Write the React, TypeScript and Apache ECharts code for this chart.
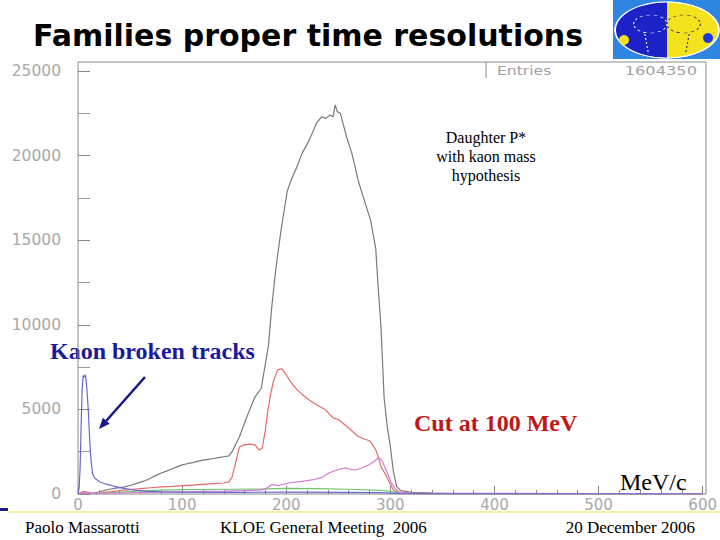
import React, { useEffect, useRef } from "react";
import * as echarts from "echarts";

// ---- data (MeV/c vs. entries) ----
const grayMeV = [0, 5, 10, 15, 20, 25, 30, 35, 40, 45, 50, 55, 60, 65, 70, 75, 80, 85, 90, 95, 100, 105, 110, 115, 120, 125, 130, 135, 140, 145, 148, 152, 155, 160, 165, 170, 176, 180, 183, 186, 190, 195, 201, 205, 210, 215, 222, 229, 234, 238, 242, 245, 247, 249, 252, 255, 258, 263, 269, 274, 281, 286, 288, 291, 294, 297, 300, 303, 306, 310, 315, 320, 330, 340, 360, 400, 450, 600];
const grayCounts = [0, 0, 20, 50, 120, 200, 280, 330, 380, 420, 500, 600, 700, 800, 950, 1100, 1240, 1350, 1480, 1600, 1720, 1790, 1850, 1930, 2000, 2050, 2100, 2150, 2200, 2250, 2500, 3000, 3370, 4200, 5000, 5730, 6250, 7700, 8800, 11000, 13300, 15600, 17900, 18600, 19300, 20100, 20900, 21900, 22300, 22200, 22400, 22300, 23000, 22600, 22500, 21800, 21100, 20150, 18560, 17550, 16190, 14500, 12500, 9900, 5700, 4000, 2800, 1300, 450, 200, 150, 100, 80, 60, 30, 10, 5, 0];

const redMeV = [0, 5, 10, 15, 20, 25, 30, 40, 50, 60, 70, 80, 90, 100, 110, 120, 130, 140, 145, 148, 152, 155, 160, 165, 170, 174, 177, 180, 182, 185, 188, 192, 196, 200, 205, 210, 215, 222, 230, 238, 245, 250, 253, 260, 269, 275, 280, 283, 286, 289, 291, 295, 298, 303, 308, 315, 330, 600];
const redCounts = [0, 150, 100, 30, 30, 80, 130, 200, 260, 320, 370, 420, 450, 490, 530, 570, 610, 650, 720, 1000, 2000, 2780, 2900, 2950, 2900, 2600, 2720, 3800, 4790, 5900, 6740, 7350, 7400, 7050, 6560, 6200, 5900, 5560, 5250, 4960, 4500, 4400, 4250, 3900, 3400, 3250, 3150, 2900, 2600, 2100, 1600, 1200, 830, 240, 60, 20, 10, 0];

const magentaMeV = [0, 5, 10, 20, 40, 60, 80, 100, 120, 140, 160, 175, 180, 186, 193, 202, 215, 225, 235, 241, 250, 257, 262, 266, 272, 279, 285, 288, 291, 293, 297, 301, 305, 308, 320, 400, 500, 600];
const magentaCounts = [0, 80, 50, 30, 60, 90, 110, 130, 150, 170, 200, 230, 300, 550, 500, 650, 750, 830, 1000, 1240, 1450, 1540, 1450, 1420, 1520, 1710, 1950, 2130, 2050, 1830, 1250, 650, 300, 120, 60, 40, 30, 30];

const greenMeV = [0, 20, 40, 60, 80, 100, 150, 180, 200, 230, 260, 290, 300, 310, 330, 600];
const greenCounts = [0, 20, 100, 180, 230, 260, 280, 300, 330, 320, 280, 220, 150, 50, 10, 0];

const blueMeV = [0, 1, 2, 3, 4, 5, 6, 7, 8, 9, 10, 11, 12, 13, 14, 16, 18, 21, 25, 30, 34, 40, 47, 55, 66, 80, 100, 150, 200, 250, 290, 300, 310, 330, 600];
const blueCounts = [0, 300, 1500, 4000, 6200, 7000, 6900, 7050, 6600, 5800, 4800, 3500, 2400, 1700, 1200, 950, 850, 710, 620, 540, 470, 380, 300, 220, 150, 120, 110, 100, 110, 100, 80, 50, 20, 10, 0];

const yTicks = [0, 5000, 10000, 15000, 20000, 25000];
const xTicks = [0, 100, 200, 300, 400, 500, 600];

const titleText = "Families proper time resolutions";
const entriesLabel = "Entries";
const entriesValue = "1604350";
const noteLines = ["Daughter P*", "with kaon mass", "hypothesis"];
const kaonText = "Kaon broken tracks";
const cutText = "Cut at 100 MeV";
const unitText = "MeV/c";
const footer = ["Paolo Massarotti", "KLOE General Meeting  2006", "20 December 2006"];

const pairs = (xs: number[], ys: number[]) => xs.map((x, i) => [x, ys[i]]);

export default function App() {
  const ref = useRef<HTMLDivElement>(null);
  useEffect(() => {
    if (!ref.current) return;
    const chart = echarts.init(ref.current, null, { renderer: "svg" });
    const serif = "'Liberation Serif', 'DejaVu Serif', serif";
    const sans = "'DejaVu Sans', sans-serif";
    const mkLine = (name: string, xs: number[], ys: number[], color: string, z: number) => ({
      name,
      type: "line",
      data: pairs(xs, ys),
      showSymbol: false,
      symbol: "none",
      lineStyle: { color, width: 1.2 },
      z,
    });
    const ax = 145, ay = 377, tx = 99, ty = 429;
    const dx = tx - ax, dy = ty - ay;
    const len = Math.sqrt(dx * dx + dy * dy);
    const ux = dx / len, uy = dy / len;
    const bx = tx - 11 * ux, by = ty - 11 * uy;
    const px = -uy, py = ux;
    chart.setOption({
      animation: false,
      backgroundColor: "#ffffff",
      grid: { left: 78, right: 14, top: 71, bottom: 46, containLabel: false },
      xAxis: {
        type: "value",
        min: 0,
        max: 600,
        interval: 100,
        axisLine: { show: false },
        axisTick: { show: true, inside: true, length: 8, lineStyle: { color: "#888" } },
        minorTick: { show: true, splitNumber: 5, length: 4, lineStyle: { color: "#888" } },
        splitLine: { show: false },
        axisLabel: {
          color: "#a8a8a8",
          fontFamily: sans,
          fontSize: 15,
          margin: 3,
          formatter: (v: number) => (xTicks.includes(v) ? String(v) : ""),
        },
      },
      yAxis: {
        type: "value",
        min: 0,
        max: 25000,
        interval: 5000,
        axisLine: { show: false },
        axisTick: { show: true, inside: true, length: 12, lineStyle: { color: "#888" } },
        minorTick: { show: true, splitNumber: 2, length: 12, lineStyle: { color: "#999" } },
        splitLine: { show: false },
        axisLabel: {
          color: "#a8a8a8",
          fontFamily: sans,
          fontSize: 15.5,
          margin: 17,
          formatter: (v: number) => (yTicks.includes(v) ? String(v) : ""),
        },
      },
      series: [
        mkLine("all", grayMeV, grayCounts, "#7a7a7a", 2),
        mkLine("red", redMeV, redCounts, "#e36b6b", 3),
        mkLine("magenta", magentaMeV, magentaCounts, "#d779d9", 4),
        mkLine("green", greenMeV, greenCounts, "#74c374", 3),
        mkLine("blue", blueMeV, blueCounts, "#6767cf", 5),
      ],
      graphic: [
        { type: "rect", shape: { x: 78, y: 62, width: 628, height: 432 }, style: { fill: "none", stroke: "#8a8a8a", lineWidth: 1 }, z: 1 },
        { type: "line", shape: { x1: 486, y1: 62, x2: 486, y2: 78 }, style: { stroke: "#8a8a8a", lineWidth: 1 } },
        { type: "text", x: 497, y: 70, style: { text: entriesLabel, fill: "#a0a0a0", font: `13px ${sans}`, verticalAlign: "middle" }, scaleX: 1.2 },
        { type: "text", x: 697, y: 70, scaleX: 1.25, style: { text: entriesValue, fill: "#a0a0a0", font: `13px ${sans}`, align: "right", verticalAlign: "middle" } },
        { type: "text", x: 308, y: 35, style: { text: titleText, fill: "#000", font: `bold 30px ${sans}`, align: "center", verticalAlign: "middle" } },
        // logo
        { type: "rect", shape: { x: 613, y: 0, width: 107, height: 59 }, style: { fill: "#2f86e0" } },
        {
          type: "group",
          x: 667,
          y: 30,
          scaleX: 1.85,
          scaleY: 1,
          children: [
            { type: "circle", shape: { cx: 0, cy: 0, r: 28 }, style: { fill: "#f4e21c", stroke: "#ffffff", lineWidth: 1 } },
            { type: "sector", shape: { cx: 0, cy: 0, r: 28, r0: 0, startAngle: Math.PI / 2, endAngle: (3 * Math.PI) / 2 }, style: { fill: "#1c22c8" } },
            { type: "circle", shape: { cx: 0, cy: 0, r: 28 }, style: { fill: "none", stroke: "#ffffff", lineWidth: 0.8 } },
            { type: "circle", shape: { cx: -9, cy: -6, r: 9 }, style: { fill: "none", stroke: "#ffffff", lineWidth: 0.6, lineDash: [2, 2] } },
            { type: "circle", shape: { cx: 9, cy: -6, r: 9 }, style: { fill: "none", stroke: "#2a2a6a", lineWidth: 0.6, lineDash: [2, 2] } },
            { type: "line", shape: { x1: -12, y1: 4, x2: -10, y2: 24 }, style: { stroke: "#ffffff", lineWidth: 0.6, lineDash: [2, 2] } },
            { type: "line", shape: { x1: 12, y1: 4, x2: 10, y2: 24 }, style: { stroke: "#2a2a6a", lineWidth: 0.6, lineDash: [2, 2] } },
          ],
        },
        { type: "circle", shape: { cx: 624, cy: 40, r: 5 }, style: { fill: "#f6e020" } },
        { type: "circle", shape: { cx: 708, cy: 38, r: 5 }, style: { fill: "#1c3ad8" } },
        // annotations
        { type: "text", x: 486, y: 137, style: { text: noteLines[0], fill: "#000", font: `16px ${serif}`, align: "center", verticalAlign: "middle" } },
        { type: "text", x: 486, y: 156, style: { text: noteLines[1], fill: "#000", font: `16px ${serif}`, align: "center", verticalAlign: "middle" } },
        { type: "text", x: 486, y: 175, style: { text: noteLines[2], fill: "#000", font: `16px ${serif}`, align: "center", verticalAlign: "middle" } },
        { type: "text", x: 50, y: 351, style: { text: kaonText, fill: "#1a1a9a", font: `bold 24px ${serif}`, verticalAlign: "middle" } },
        { type: "text", x: 414, y: 423, style: { text: cutText, fill: "#c01818", font: `bold 24px ${serif}`, verticalAlign: "middle" } },
        { type: "text", x: 620, y: 482, style: { text: unitText, fill: "#000", font: `24px ${serif}`, verticalAlign: "middle" } },
        { type: "line", shape: { x1: ax, y1: ay, x2: bx, y2: by }, style: { stroke: "#16168a", lineWidth: 2.5 } },
        {
          type: "polygon",
          shape: { points: [[tx, ty], [bx + 4.5 * px, by + 4.5 * py], [bx - 4.5 * px, by - 4.5 * py]] },
          style: { fill: "#16168a" },
        },
        // footer
        { type: "line", shape: { x1: 8, y1: 512, x2: 720, y2: 512 }, style: { stroke: "#eeea80", lineWidth: 1.5 } },
        { type: "rect", shape: { x: 0, y: 508, width: 8, height: 3 }, style: { fill: "#1c1c80" } },
        { type: "text", x: 25, y: 527, style: { text: footer[0], fill: "#000", font: `17px ${serif}`, verticalAlign: "middle" } },
        { type: "text", x: 220, y: 527, style: { text: footer[1], fill: "#000", font: `17px ${serif}`, verticalAlign: "middle" } },
        { type: "text", x: 695, y: 527, style: { text: footer[2], fill: "#000", font: `17px ${serif}`, align: "right", verticalAlign: "middle" } },
      ],
    });
    return () => chart.dispose();
  }, []);
  return <div ref={ref} style={{ width: 720, height: 540, position: "absolute", left: 0, top: 0 }} />;
}
